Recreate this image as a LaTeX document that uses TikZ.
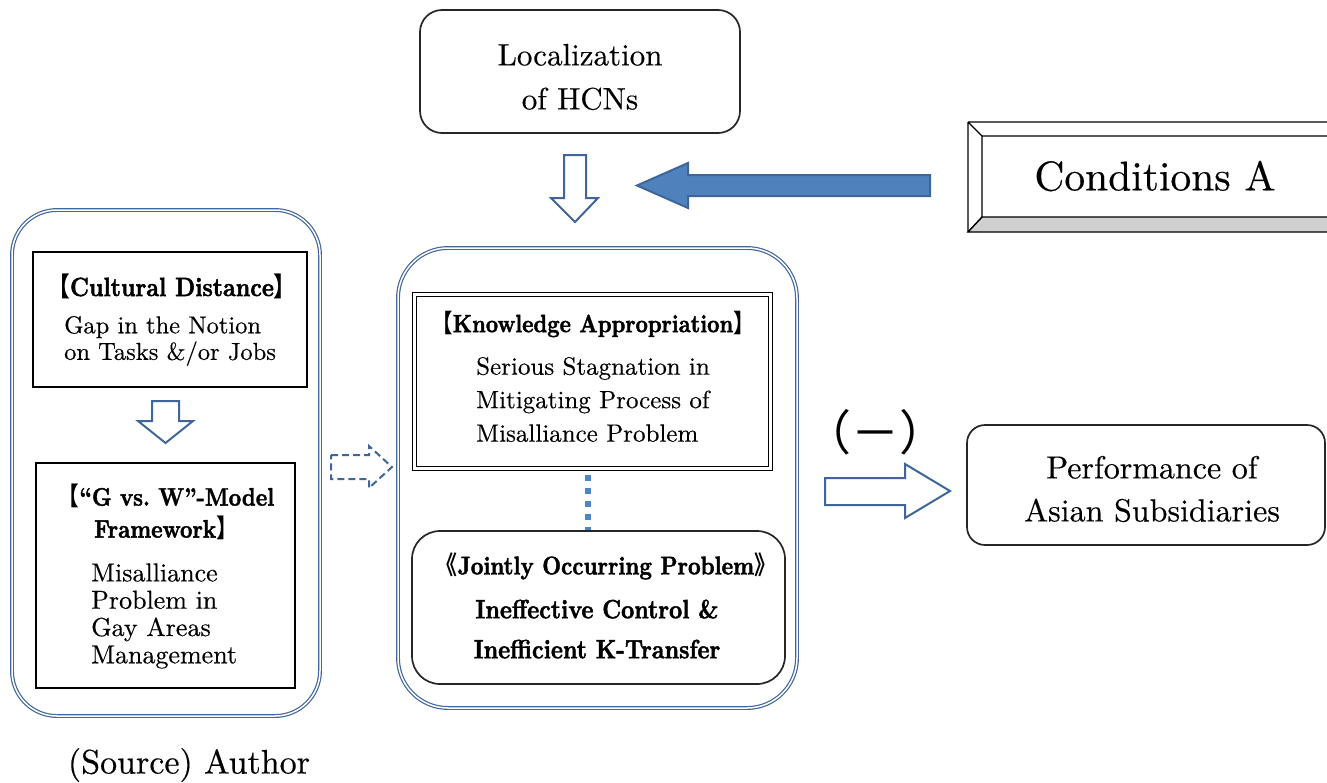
\documentclass[tikz,border=0pt]{standalone}
\usepackage{fontspec}
\newfontfamily\bodyfont{lmroman10-regular}[Extension=.otf, Ligatures=TeX, FakeBold=0.35]
\newfontfamily\headfont{lmroman10-bold}[Extension=.otf, Ligatures=TeX, FakeBold=1.6, FakeStretch=0.86]
\newfontfamily\cjk{Noto Sans CJK JP}
\newfontfamily\cjkbold{Noto Sans CJK JP Bold}[FakeStretch=0.86]
\definecolor{frameblue}{HTML}{41679E}
\definecolor{arrowblue}{HTML}{3F6599}
\definecolor{fillblue}{HTML}{4F81BD}
\definecolor{dotblue}{HTML}{4A86C8}
\definecolor{bevelgray}{HTML}{D0D0D0}
\newcommand{\lb}{{\cjkbold 【}}
\newcommand{\rb}{{\cjkbold 】}}
\tikzset{
  outerframe/.style={draw=frameblue, double=white, double distance=1.5pt, line width=1.2pt, inner sep=0pt},
  plainbox/.style={draw=black, line width=2.2pt, inner sep=0pt},
  twinbox/.style={draw=black, line width=1.1pt, double=white, double distance=2.2pt, inner sep=0pt},
  softbox/.style={draw=black!85, line width=1.7pt, inner sep=0pt},
  hollowarrow/.style={draw=arrowblue, line width=2pt, fill=white, line join=miter},
  solidarrow/.style={draw=arrowblue, line width=2pt, fill=fillblue, line join=miter},
  dotline/.style={draw=dotblue, line width=5.5pt, dash pattern=on 6pt off 7pt},
  body/.style={inner sep=0pt},
  heading/.style={inner sep=0pt},
}
\begin{document}
\begin{tikzpicture}[x=1pt, y=-1pt]
\useasboundingbox (0,0) rectangle (1327,782);

% ---- outer frames
\node[outerframe, rounded corners=45pt, minimum width=308pt, minimum height=506pt] (leftframe) at (166,463) {};
\node[outerframe, rounded corners=50pt, minimum width=399pt, minimum height=460pt] (midframe) at (597.5,478) {};

% ---- top box
\node[softbox, rounded corners=22pt, minimum width=320pt, minimum height=123pt] (loc) at (580,71.5) {};
\node[body, font=\fontsize{31}{44}\selectfont\bodyfont, align=center] (loctext) at (580,77) {Localization\\of HCNs};

% ---- beveled box
\coordinate (cA) at (968,122);
\coordinate (cB) at (1345,122);
\coordinate (cC) at (1345,232);
\coordinate (cD) at (968,232);
\coordinate (ia) at (982,136);
\coordinate (ib) at (1345,136);
\coordinate (ic) at (1345,217);
\coordinate (id) at (982,217);
\fill[white] (cA) -- (cB) -- (cC) -- (cD) -- cycle;
\filldraw[fill=bevelgray, draw=black, line width=1.2pt] (cD) -- (id) -- (ic) -- (cC) -- cycle;
\draw[line width=1.2pt] (cA) -- (cB) (cA) -- (cD) (cA) -- (ia) (cD) -- (id) (ia) -- (ib) (ia) -- (id);
\node[body, font=\fontsize{41.5}{48}\selectfont\bodyfont] (cond) at (1155,176) {Conditions A};

% ---- arrows into the middle frame
\draw[hollowarrow] (564,155) -- (586,155) -- (586,198) -- (598,198) -- (575,222) -- (551,198) -- (564,198) -- cycle;
\draw[solidarrow] (930,175) -- (688,175) -- (688,163) -- (637,185.5) -- (688,208) -- (688,196) -- (930,196) -- cycle;

% ---- left column
\node[plainbox, minimum width=274pt, minimum height=135pt] (cult) at (170,319.5) {};
\node[heading, font=\fontsize{26.5}{32}\selectfont\headfont] (culttitle) at (172,286) {\lb Cultural Distance\rb};
\node[body, align=left, anchor=west, font=\fontsize{24.5}{26.5}\selectfont\bodyfont] (culttext) at (64,341) {Gap in the Notion\\on Tasks \&/or Jobs};

\draw[hollowarrow] (152,401) -- (179,401) -- (179,421) -- (193,421) -- (165.5,443) -- (138,421) -- (152,421) -- cycle;

\node[plainbox, minimum width=259pt, minimum height=225pt] (gw) at (165.5,575.5) {};
\node[heading, align=center, font=\fontsize{25.3}{32}\selectfont\headfont] (gwtitle) at (166,512) {\lb``G vs.\ W''-Model\\Framework\rb};
\node[body, align=left, anchor=west, font=\fontsize{26}{27.3}\selectfont\bodyfont] (gwtext) at (91,616) {Misalliance\\Problem in\\Gay Areas\\Management};

% ---- dashed link between the columns
\draw[hollowarrow, dashed, dash pattern=on 7pt off 4pt] (331,455) -- (369,455) -- (369,446) -- (392,467) -- (369,488) -- (369,479) -- (331,479) -- cycle;

% ---- middle column
\node[twinbox, minimum width=356pt, minimum height=174pt] (know) at (592.5,381.5) {};
\node[heading, font=\fontsize{25}{32}\selectfont\headfont] (knowtitle) at (593,324) {\lb Knowledge Appropriation\rb};
\node[body, align=left, anchor=west, font=\fontsize{25}{33.5}\selectfont\bodyfont] (knowtext) at (476,399.5) {Serious Stagnation in\\Mitigating Process of\\Misalliance Problem};

\node[softbox, rounded corners=28pt, minimum width=373pt, minimum height=153pt] (joint) at (598.5,607.5) {};
\node[heading, font=\fontsize{25.5}{32}\selectfont\headfont] (jointtitle) at (606,566) {{\cjkbold 《}Jointly Occurring Problem{\cjkbold 》}};
\node[heading, align=center, font=\fontsize{26.5}{40}\selectfont\headfont] (jointtext) at (597,629) {Ineffective Control \&\\Inefficient K-Transfer};

\draw[dotline] (588,475) -- (joint.north -| 588,475);

% ---- outcome
\node[font=\fontsize{48}{50}\selectfont\cjk, inner sep=0pt] (minus) at (875,432) {（－）};
\draw[hollowarrow] (825,478) -- (905,478) -- (905,464) -- (950,491) -- (905,518) -- (905,505) -- (825,505) -- cycle;

\node[softbox, rounded corners=18pt, minimum width=358pt, minimum height=120pt] (perf) at (1146,485) {};
\node[body, font=\fontsize{32}{43}\selectfont\bodyfont, align=center] (perftext) at (1152,489) {Performance of\\Asian Subsidiaries};

% ---- source line
\node[body, font=\fontsize{34}{40}\selectfont\bodyfont] (source) at (189,765) {(Source) Author};
\end{tikzpicture}
\end{document}
